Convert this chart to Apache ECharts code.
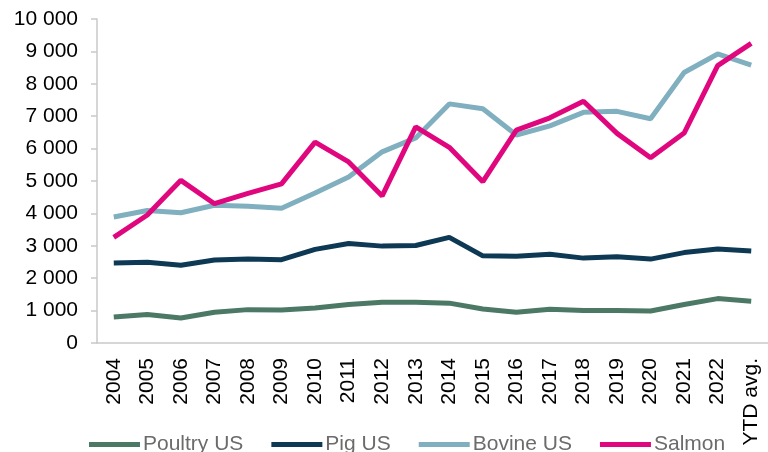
<!DOCTYPE html>
<html>
<head>
<meta charset="utf-8">
<script src="https://cdn.jsdelivr.net/npm/echarts@6/dist/echarts.min.js"></script>
<style>
  html, body { margin: 0; padding: 0; background: #fff; }
  #chart { width: 768px; height: 452px; }
</style>
</head>
<body>
<div id="chart"></div>
<script>
// categories and series values
const years = ['2004', '2005', '2006', '2007', '2008', '2009', '2010', '2011', '2012', '2013',
  '2014', '2015', '2016', '2017', '2018', '2019', '2020', '2021', '2022', 'YTD avg.']
const poultryUS = [800, 880, 770, 950, 1030, 1020, 1080, 1190, 1260, 1260,
  1230, 1050, 950, 1040, 1000, 1000, 990, 1190, 1370, 1290]
const pigUS = [2470, 2490, 2400, 2560, 2590, 2570, 2890, 3070, 2990, 3010,
  3260, 2690, 2680, 2740, 2620, 2660, 2590, 2790, 2900, 2840]
const bovineUS = [3890, 4090, 4020, 4250, 4220, 4160, 4630, 5120, 5900, 6330,
  7380, 7230, 6420, 6700, 7120, 7150, 6920, 8350, 8920, 8580]
const salmon = [3260, 3950, 5020, 4300, 4620, 4910, 6200, 5590, 4540, 6670,
  6040, 4980, 6570, 6950, 7460, 6470, 5720, 6480, 8560, 9250]
const yTicks = [0, 10000]

const colors = {
  poultry: '#4c7966',
  pig: '#0d3955',
  bovine: '#80afbf',
  salmon: '#e0067e'
}

const chart = echarts.init(document.getElementById('chart'), null, { renderer: 'canvas' })

function line(name, data, color) {
  return {
    name: name,
    type: 'line',
    data: data,
    symbol: 'none',
    smooth: false,
    lineStyle: { color: color, width: 5 },
    itemStyle: { color: color }
  }
}

chart.setOption({
  animation: false,
  textStyle: { fontFamily: 'Liberation Sans, Arial, sans-serif' },
  grid: {
    left: 97,
    top: 19,
    width: 678,
    bottom: 109,
    containLabel: false
  },
  legend: {
    left: 84,
    top: 429,
    icon: 'rect',
    itemWidth: 51,
    itemHeight: 5,
    itemGap: 28,
    textStyle: { fontSize: 21, color: '#6b6b6b', padding: [0, 0, 0, -2] },
    data: ['Poultry US', 'Pig US', 'Bovine US', 'Salmon']
  },
  xAxis: {
    type: 'category',
    data: years,
    boundaryGap: true,
    axisLine: { lineStyle: { color: '#c9c9c9', width: 1.5 } },
    axisTick: { alignWithLabel: true, length: 6, lineStyle: { color: '#c9c9c9', width: 1.5 } },
    axisLabel: {
      rotate: 90,
      interval: 0,
      margin: 15,
      fontSize: 21,
      color: '#000'
    },
    splitLine: { show: false }
  },
  yAxis: {
    type: 'value',
    min: yTicks[0],
    max: yTicks[1],
    interval: 1000,
    axisLine: { show: true, lineStyle: { color: '#c9c9c9', width: 1.5 } },
    axisTick: { show: true, length: 6, lineStyle: { color: '#c9c9c9', width: 1.5 } },
    axisLabel: {
      margin: 19,
      fontSize: 21,
      color: '#000',
      formatter: v => String(v).replace(/\B(?=(\d{3})+(?!\d))/g, ' ')
    },
    splitLine: { show: false }
  },
  series: [
    line('Poultry US', poultryUS, colors.poultry),
    line('Pig US', pigUS, colors.pig),
    line('Bovine US', bovineUS, colors.bovine),
    line('Salmon', salmon, colors.salmon)
  ]
})
</script>
</body>
</html>
